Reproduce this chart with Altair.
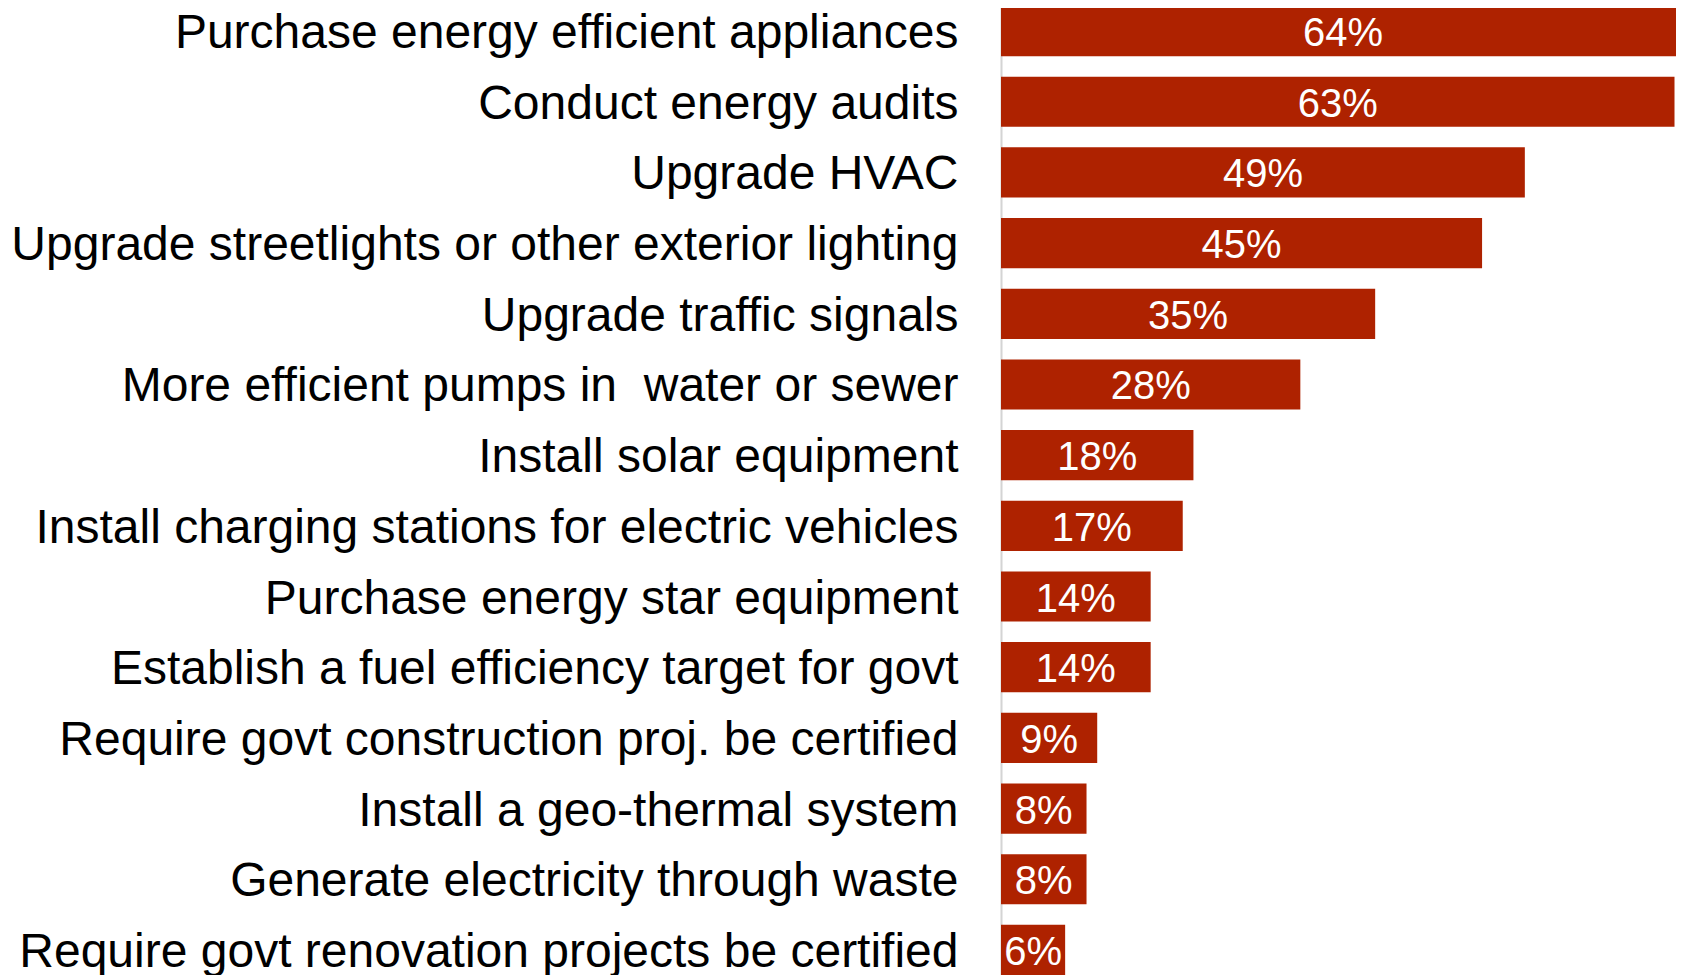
import altair as alt
import pandas as pd

categories = [
    "Purchase energy efficient appliances",
    "Conduct energy audits",
    "Upgrade HVAC",
    "Upgrade streetlights or other exterior lighting",
    "Upgrade traffic signals\u00a0",
    "More efficient pumps in\u00a0 water or sewer",
    "Install solar equipment",
    "Install charging stations for electric vehicles",
    "Purchase energy star equipment",
    "Establish a fuel efficiency target for govt",
    "Require govt construction proj. be certified",
    "Install a geo-thermal system\u00a0",
    "Generate electricity through waste",
    "Require govt renovation projects be certified",
]
values = [64, 63, 49, 45, 35, 28, 18, 17, 14, 14, 9, 8, 8, 6]

df = pd.DataFrame({"category": categories, "value": values})
df["label"] = [f"{v}%" for v in values]

FONT = "Liberation Sans"
RED = "#AE2200"

y_enc = alt.Y(
    "category:N",
    sort=None,
    scale=alt.Scale(paddingInner=0.29, paddingOuter=0),
    axis=alt.Axis(
        title=None,
        ticks=False,
        grid=False,
        domain=True,
        domainColor="#d4d4d4",
        domainWidth=2,
        labelFont=FONT,
        labelFontSize=48,
        labelColor="#000000",
        labelPadding=43,
        labelLimit=1200,
        labelOffset=3,
    ),
)

x_scale = alt.Scale(domain=[0, 63.14], nice=False, zero=True)

bars = alt.Chart(df).mark_bar(color=RED, clip=False).encode(
    y=y_enc,
    x=alt.X("value:Q", scale=x_scale, axis=None),
)

labels = (
    alt.Chart(df)
    .transform_calculate(mid="datum.value / 2")
    .mark_text(color="white", font=FONT, fontSize=40, align="center", baseline="middle", dy=3)
    .encode(
        y=alt.Y("category:N", sort=None),
        x=alt.X("mid:Q", scale=x_scale, axis=None),
        text="label:N",
    )
)

chart = (
    alt.layer(bars, labels)
    .properties(
        width=675,
        height=969,
        autosize=alt.AutoSizeParams(type="none"),
        padding={"left": 993, "top": -2, "right": 0, "bottom": 0},
    )
    .configure_view(stroke=None)
    .configure(background="white")
)

chart.save("out.html", embed_options={"renderer": "svg", "actions": False})
